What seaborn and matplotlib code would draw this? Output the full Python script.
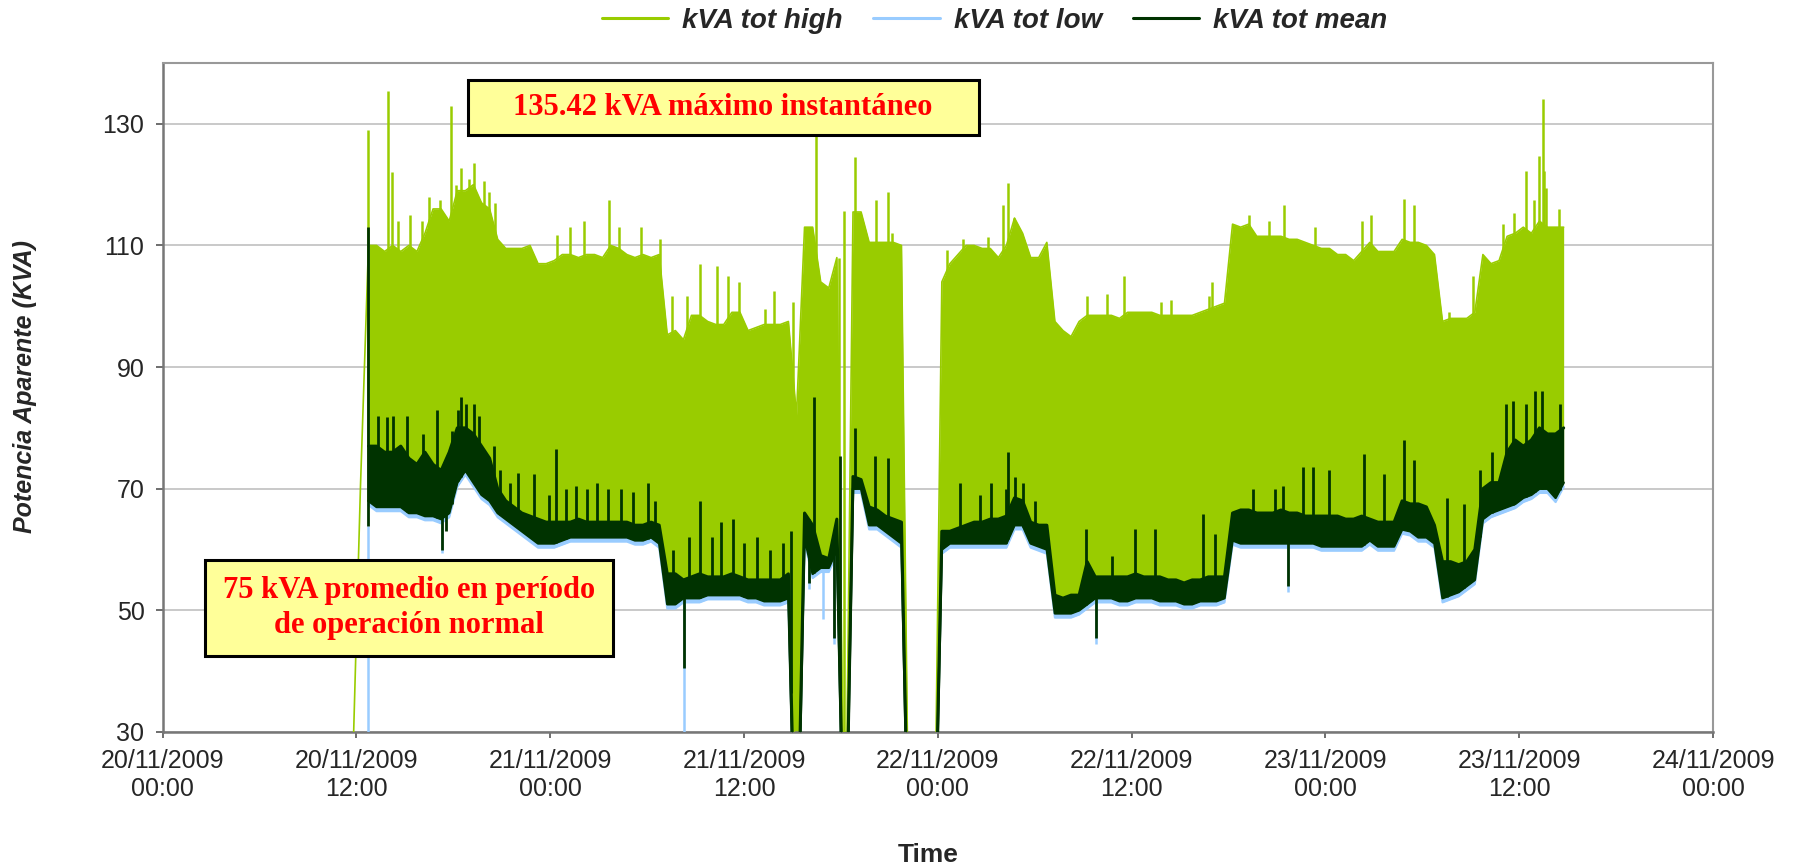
import matplotlib
matplotlib.use("Agg")
import matplotlib.pyplot as plt
import matplotlib.dates as mdates
from matplotlib.patches import Rectangle
import numpy as np
import pandas as pd
import seaborn as sns

nan = float("nan")

# ---------------- data ----------------
# regular 30-min envelope samples
start_time = "2009-11-20 11:45"
sample_step = "30min"

# typical top of the kVA tot high trace
kva_high_top = [
    22, 70, 110, 110, 109, 110, 109, 110, 109, 112,
    116, 116, 114, 119, 119, 120, 117, 116, 111, 109.5,
    109.5, 109.5, 110, 107, 107, 107.5, 108.5, 108.5, 108, 108.5,
    108.5, 108, 110, 109.5, 108.5, 108, 108.5, 108, 108.5, 95.3,
    96, 94.5, 98.5, 98.5, 97.5, 97, 97, 99, 99, 96,
    96.5, 97, 97, 97, 97.5, 82, 113, 113, 104, 103,
    108, 0, 115.5, 115.5, 110.5, 110.5, 110.5, 110.5, 110, 0,
    0, 0, 0, 104, 107, 108.5, 110, 110, 109.5, 109.5,
    108, 110, 114.5, 112, 108, 108, 110.5, 97.5, 96, 95,
    97.5, 98.5, 98.5, 98.5, 98.5, 98, 99, 99, 99, 99,
    98.5, 98.5, 98.5, 98.5, 98.5, 99, 99.5, 100, 100.5, 113.5,
    113, 113.5, 111.5, 111.5, 111.5, 111.5, 111, 111, 110.5, 110,
    109.5, 109.5, 108.5, 108.5, 107.5, 109, 110.5, 109, 109, 109,
    111, 110.5, 110.5, 110, 108.5, 97.5, 98, 98, 98, 99,
    108.5, 107, 107.5, 111.5, 112, 113, 112, 114, 113, 113,
    113,
]

# typical upper and lower edge of the kVA tot mean trace
kva_mean_top = [
    nan, nan, 77, 77, 76, 76, 77, 75, 74, 76,
    74, 73, 76, 80, 80, 79, 77, 75, 70, 68,
    67, 66, 65.5, 65, 64.5, 64.5, 64.5, 64.5, 65, 64.5,
    64.5, 64.5, 64.5, 64.5, 64.5, 64, 64, 64.5, 64, 56,
    56, 55, 55.5, 56, 55.5, 55.5, 55.5, 56, 55.5, 55,
    55, 55, 55, 55, 56, 0, 66, 64, 59, 58.5,
    65, 0, 72, 71.5, 67, 66.5, 65.5, 65, 64.5, 0,
    0, 0, 0, 63, 63, 63.5, 64, 64.5, 64.5, 65,
    65, 65.5, 68.5, 68, 64.5, 64, 64, 52.5, 52, 52.5,
    52.5, 58, 55.5, 55.5, 55.5, 55.5, 55.5, 56, 55.5, 55.5,
    55.5, 55, 55, 54.5, 55, 55, 55.5, 55.5, 55.5, 66,
    66.5, 66.5, 66, 66, 66, 66.5, 66, 66, 65.5, 65.5,
    65.5, 65.5, 65.5, 65, 65, 65.5, 65, 64.5, 64.5, 64.5,
    68, 67.5, 67.5, 67, 64, 58, 58, 57.5, 58, 60,
    70, 71, 71, 76, 78, 77, 78, 80, 79, 79,
    80,
]
kva_mean_bottom = [
    nan, nan, 68, 67, 67, 67, 67, 66, 66, 65.5,
    65.5, 65, 66, 71, 73, 71, 69, 68, 66, 65,
    64, 63, 62, 61, 61, 61, 61.5, 62, 62, 62,
    62, 62, 62, 62, 62, 61.5, 61.5, 62, 61, 51,
    51, 52, 52, 52, 52.5, 52.5, 52.5, 52.5, 52.5, 52,
    52, 51.5, 51.5, 51.5, 52, 0, 62, 56, 57, 57,
    60, 0, 70, 70, 64, 64, 63, 62, 61, 0,
    0, 0, 0, 60, 61, 61, 61, 61, 61, 61,
    61, 61, 64, 64, 61, 60.5, 60, 49.5, 49.5, 49.5,
    50, 51, 52, 52, 52, 51.5, 51.5, 52, 52, 52,
    51.5, 51.5, 51.5, 51, 51, 51.5, 51.5, 51.5, 52, 61.5,
    61, 61, 61, 61, 61, 61, 61, 61, 61, 61,
    60.5, 60.5, 60.5, 60.5, 60.5, 60.5, 61.5, 60.5, 60.5, 60.5,
    63.3, 63, 62, 62, 61, 52, 52.5, 53, 54, 55,
    65, 66, 66.5, 67, 67.5, 68.5, 69, 70, 70, 68.5,
    71,
]

# typical bottom of the kVA tot low trace
kva_low_bottom = [
    nan, nan, 67.3, 66.3, 66.3, 66.3, 66.3, 65.3, 65.3, 64.8,
    64.8, 64.3, 65.3, 70.3, 72.3, 70.3, 68.3, 67.3, 65.3, 64.3,
    63.3, 62.3, 61.3, 60.3, 60.3, 60.3, 60.8, 61.3, 61.3, 61.3,
    61.3, 61.3, 61.3, 61.3, 61.3, 60.8, 60.8, 61.3, 60.3, 50.3,
    50.3, 51.3, 51.3, 51.3, 51.8, 51.8, 51.8, 51.8, 51.8, 51.3,
    51.3, 50.8, 50.8, 50.8, 51.3, 0, 61.3, 55.3, 56.3, 56.3,
    59.3, 0, 69.3, 69.3, 63.3, 63.3, 62.3, 61.3, 60.3, 0,
    0, 0, 0, 59.3, 60.3, 60.3, 60.3, 60.3, 60.3, 60.3,
    60.3, 60.3, 63.3, 63.3, 60.3, 59.8, 59.3, 48.8, 48.8, 48.8,
    49.3, 50.3, 51.3, 51.3, 51.3, 50.8, 50.8, 51.3, 51.3, 51.3,
    50.8, 50.8, 50.8, 50.3, 50.3, 50.8, 50.8, 50.8, 51.3, 60.8,
    60.3, 60.3, 60.3, 60.3, 60.3, 60.3, 60.3, 60.3, 60.3, 60.3,
    59.8, 59.8, 59.8, 59.8, 59.8, 59.8, 60.8, 59.8, 59.8, 59.8,
    62.6, 62.3, 61.3, 61.3, 60.3, 51.3, 51.8, 52.3, 53.3, 54.3,
    64.3, 65.3, 65.8, 66.3, 66.8, 67.8, 68.3, 69.3, 69.3, 67.8,
    70.3,
]

# isolated spikes / dips (hours after 20/11/2009 00:00, kVA)
high_spike_hours = [
    12.75, 13.99, 14.2, 14.55, 15.33, 16.06, 16.5, 17.2, 17.88, 18.15,
    18.5, 18.95, 19.26, 19.88, 20.2, 20.6, 24.42, 25.2, 26.1, 27.62,
    28.24, 29.63, 30.82, 31.55, 32.48, 33.26, 34.33, 35.0, 35.68, 37.33,
    37.85, 39.05, 40.45, 41.87, 42.18, 42.9, 44.2, 44.94, 45.15, 48.56,
    49.59, 51.13, 52.06, 52.37, 52.7, 57.22, 58.45, 59.53, 61.79, 62.41,
    64.78, 64.99, 67.26, 68.5, 69.42, 71.38, 74.26, 74.85, 76.85, 77.47,
    79.67, 81.12, 83.0, 83.7, 84.42, 84.93, 85.24, 85.45, 85.55, 85.65,
    86.44,
]
high_spike_kva = [
    129, 135.42, 122, 114, 115, 114, 118, 117.5, 133, 120,
    122.7, 121, 123.5, 120.6, 118.8, 117, 111.7, 113, 114, 117.4,
    113, 113, 111, 101.7, 101.7, 107, 106.7, 105, 104, 99.6,
    102.5, 100.7, 128, 108, 115.6, 124.5, 117.4, 118.8, 112, 109.3,
    111, 111.4, 116.7, 120.2, 114.5, 101.7, 102, 105, 100.7, 101,
    101.7, 104, 115, 114, 116.7, 113, 114, 115, 117.7, 116.7,
    99, 105, 113.5, 115.3, 122.3, 117.4, 124.7, 134.1, 122.3, 119.5,
    116,
]
mean_spike_hours = [
    12.72, 13.37, 13.9, 14.26, 15.13, 16.1, 17.0, 17.9, 18.3, 18.5,
    18.8, 19.26, 19.6, 20.5, 20.9, 21.5, 22.0, 23.0, 23.9, 24.36,
    25.0, 25.6, 26.3, 26.9, 27.6, 28.4, 29.1, 30.06, 30.5, 31.6,
    32.6, 33.3, 34.0, 34.6, 35.3, 36.0, 36.8, 37.6, 38.4, 38.9,
    40.35, 41.95, 42.9, 44.1, 44.9, 49.37, 50.6, 51.3, 52.2, 52.37,
    52.8, 53.3, 54.0, 57.2, 58.8, 60.2, 61.44, 64.41, 65.18, 67.5,
    68.9, 69.4, 70.6, 71.2, 72.2, 74.4, 75.6, 76.85, 77.47, 79.5,
    80.6, 81.6, 82.3, 83.2, 83.6, 84.4, 85.0, 85.4, 86.5,
]
mean_spike_kva = [
    113, 82, 81.8, 82, 82, 79, 83, 79.5, 83, 85,
    84, 84, 82, 77, 73, 71, 72.6, 72.4, 69, 76.5,
    70, 70.5, 70, 71, 70, 70, 69.5, 71, 68, 60,
    62, 68, 62, 64.5, 65, 61, 62, 60, 61, 63,
    85, 75.4, 80, 75.4, 75, 71, 69, 71, 70, 76,
    72, 71, 68, 63.3, 59, 63.3, 63.3, 65.8, 62.5, 70,
    70, 70.4, 73.6, 73.6, 73, 75.7, 72.5, 78, 74.7, 68.5,
    67.5, 73, 76, 84, 84.5, 84, 86, 86, 84,
]
mean_dip_hours = [17.3, 17.57, 32.3, 40.0, 41.6, 57.8, 69.7]
mean_dip_kva = [60, 63, 40.5, 54.5, 45.5, 45.5, 54]
low_dip_hours = [12.72, 17.3, 32.3, 40.0, 40.87, 41.6, 57.8, 69.7]
low_dip_kva = [0, 59.5, 25, 53.5, 48.5, 44.5, 44.5, 53]

series_labels = ["kVA tot high", "kVA tot low", "kVA tot mean"]
y_ticks = [30, 50, 70, 90, 110, 130]
x_start, x_end = "2009-11-20 00:00", "2009-11-24 00:00"
y_label = "Potencia Aparente (KVA)"
x_label = "Time"
note_max = "135.42 kVA máximo instantáneo"
note_avg = "75 kVA promedio en período\nde operación normal"

# ---------------- styling ----------------
sns.set_style("white")
plt.rcParams["font.family"] = ["Liberation Sans", "DejaVu Sans"]
SERIF = ["Liberation Serif", "DejaVu Serif"]

C_HIGH = "#99CC00"
C_LOW = "#99CCFF"
C_MEAN = "#003300"

times = pd.date_range(start_time, periods=len(kva_high_top), freq=sample_step)
df = pd.DataFrame({
    "time": times,
    "high": kva_high_top,
    "mean_top": kva_mean_top,
    "mean_bottom": kva_mean_bottom,
    "low": kva_low_bottom,
})
t0 = pd.Timestamp(x_start)
t_num = mdates.date2num(times)
floor_mean = np.nan_to_num(np.array(kva_mean_bottom, dtype=float))
top_mean = np.nan_to_num(np.array(kva_mean_top, dtype=float))


def at_hours(hours):
    return t0 + pd.to_timedelta(np.array(hours, dtype=float), unit="h")


def interp_on(hours, values):
    return np.interp(mdates.date2num(at_hours(hours)), t_num, values)


fig = plt.figure(figsize=(18, 8.64), dpi=100)
ax = fig.add_axes([0.0903, 0.1528, 0.8614, 0.7743])

# kVA tot high
ax.fill_between(df["time"], df["mean_bottom"], df["high"], color=C_HIGH, lw=0, zorder=2)
sns.lineplot(data=df, x="time", y="high", color=C_HIGH, lw=1.2, ax=ax,
             estimator=None, sort=False, label=series_labels[0], zorder=3)
ax.vlines(at_hours(high_spike_hours), interp_on(high_spike_hours, floor_mean),
          high_spike_kva, color=C_HIGH, lw=1.8, zorder=3)

# kVA tot low
ax.fill_between(df["time"], df["low"], df["mean_bottom"], color=C_LOW, lw=0, zorder=4)
sns.lineplot(data=df, x="time", y="low", color=C_LOW, lw=1.5, ax=ax,
             estimator=None, sort=False, label=series_labels[1], zorder=5)
ax.vlines(at_hours(low_dip_hours), interp_on(low_dip_hours, floor_mean),
          low_dip_kva, color=C_LOW, lw=1.8, zorder=5)

# kVA tot mean
ax.fill_between(df["time"], df["mean_bottom"], df["mean_top"], color=C_MEAN, lw=0, zorder=6)
sns.lineplot(data=df, x="time", y="mean_top", color=C_MEAN, lw=2.2, ax=ax,
             estimator=None, sort=False, label=series_labels[2], zorder=7)
sns.lineplot(data=df, x="time", y="mean_bottom", color=C_MEAN, lw=1.8, ax=ax,
             estimator=None, sort=False, zorder=7)
ax.vlines(at_hours(mean_spike_hours), interp_on(mean_spike_hours, floor_mean),
          mean_spike_kva, color=C_MEAN, lw=2.0, zorder=7)
ax.vlines(at_hours(mean_dip_hours), interp_on(mean_dip_hours, top_mean),
          mean_dip_kva, color=C_MEAN, lw=2.0, zorder=7)

# axes
ax.set_xlim(pd.Timestamp(x_start), pd.Timestamp(x_end))
ax.set_ylim(30, 140)
ax.set_yticks(y_ticks)
ax.xaxis.set_major_locator(mdates.HourLocator(byhour=[0, 12]))
ax.xaxis.set_major_formatter(mdates.DateFormatter("%d/%m/%Y\n%H:%M"))
ax.grid(axis="y", color="#C0C0C0", lw=1.2, zorder=0)
ax.grid(axis="x", visible=False)
ax.set_axisbelow(True)

for side in ["left", "bottom"]:
    ax.spines[side].set_color("#777777")
    ax.spines[side].set_linewidth(1.8)
for side in ["top", "right"]:
    ax.spines[side].set_color("#999999")
    ax.spines[side].set_linewidth(1.5)
    ax.spines[side].set_visible(True)

ax.tick_params(axis="x", direction="out", length=4.5, width=1.2, color="#555555",
               pad=8, labelsize=18, bottom=True)
ax.tick_params(axis="y", direction="out", length=5, width=1.2, color="#555555",
               pad=8, labelsize=18, left=True)
for lbl in ax.get_xticklabels():
    lbl.set_linespacing(1.2)

ax.set_ylabel(y_label, fontsize=18, fontweight="bold", fontstyle="italic")
ax.yaxis.set_label_coords(-0.0885, 0.5157)
ax.yaxis.label.set_va("center")
ax.set_xlabel(x_label, fontsize=19, fontweight="bold")
ax.xaxis.set_label_coords(0.4936, -0.184)
ax.xaxis.label.set_va("center")

# legend at the top
handles, labels = ax.get_legend_handles_labels()
if ax.get_legend() is not None:
    ax.get_legend().remove()
leg = fig.legend(handles, labels, loc="center", bbox_to_anchor=(0.5525, 0.976), ncol=3,
                 frameon=False, handlelength=2.4, handletextpad=0.5, columnspacing=1.1,
                 prop={"family": ["Liberation Sans", "DejaVu Sans"], "weight": "bold",
                       "style": "italic", "size": 20})
for ln in leg.get_lines():
    ln.set_linewidth(2.2)

# annotation boxes
ax.add_patch(Rectangle((0.197, 0.8924), 0.3295, 0.0822, transform=ax.transAxes,
                       facecolor="#FFFF99", edgecolor="black", lw=2.2, zorder=10, clip_on=False))
ax.text(0.3615, 0.9335, note_max, transform=ax.transAxes, ha="center", va="center",
        color="#FF0000", fontsize=22, fontweight="bold", family=SERIF, zorder=11)
ax.add_patch(Rectangle((0.0274, 0.1136), 0.263, 0.1435, transform=ax.transAxes,
                       facecolor="#FFFF99", edgecolor="black", lw=2.2, zorder=10, clip_on=False))
ax.text(0.1589, 0.1854, note_avg, transform=ax.transAxes, ha="center", va="center",
        color="#FF0000", fontsize=22, fontweight="bold", family=SERIF, zorder=11,
        linespacing=1.3, multialignment="center")

fig.savefig("out.png", dpi=100, facecolor="white")
